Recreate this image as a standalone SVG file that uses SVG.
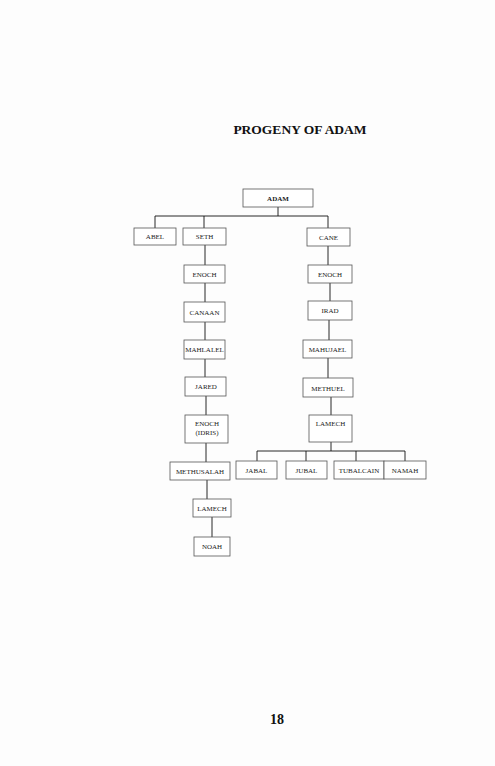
<svg xmlns="http://www.w3.org/2000/svg" width="495" height="766" viewBox="0 0 495 766">
<style>
.b{fill:#fff;stroke:#555;stroke-width:0.8}
.t{font-family:"Liberation Serif","DejaVu Serif",serif;font-size:7px;fill:#222;text-anchor:middle}
.c{stroke:#111;stroke-width:0.9;fill:none}
</style>
<rect width="495" height="766" fill="#fdfdfd"/>
<text x="300" y="134" font-family="Liberation Serif,serif" font-weight="bold" font-size="13.5" text-anchor="middle" fill="#111">PROGENY OF ADAM</text>
<text x="277" y="724" font-family="Liberation Serif,serif" font-weight="bold" font-size="14" text-anchor="middle" fill="#111">18</text>
<g id="connectors" class="c">
<path d="M278 207V216M155 216H328M155 216V228M204 216V228M328 216V228"/>
<path d="M205 245V265M205 283V302M205 322V340M205 359V377M206 396V415M206 443V462M207 480V499M212 517V537"/>
<path d="M328 246V265M330 283V301M329 320V340M328 358V378M331 397V415M331 442V451"/>
<path d="M257 451H405M257 451V461M306 451V461M356 451V461M405 451V461"/>
</g>
<g id="adam"><rect class="b" x="243" y="189" width="70" height="18"/><text class="t" x="278" y="200.5" font-weight="bold">ADAM</text></g>
<g id="abel"><rect class="b" x="134" y="228" width="42" height="17"/><text class="t" x="155" y="239">ABEL</text></g>
<g id="seth"><rect class="b" x="183" y="228" width="43" height="17"/><text class="t" x="204.5" y="239">SETH</text></g>
<g id="cane"><rect class="b" x="307" y="228" width="43" height="18"/><text class="t" x="328.5" y="239.5">CANE</text></g>
<g id="enoch1"><rect class="b" x="184" y="265" width="41" height="18"/><text class="t" x="204.5" y="276.5">ENOCH</text></g>
<g id="canaan"><rect class="b" x="184" y="302" width="41" height="20"/><text class="t" x="204.5" y="314.5">CANAAN</text></g>
<g id="mahlalel"><rect class="b" x="184" y="340" width="41" height="19"/><text class="t" x="204.5" y="352">MAHLALEL</text></g>
<g id="jared"><rect class="b" x="185" y="377" width="41" height="19"/><text class="t" x="206" y="388.5">JARED</text></g>
<g id="enochidris"><rect class="b" x="185" y="415" width="43" height="28"/><text class="t" x="207" y="425.5">ENOCH</text><text class="t" x="207" y="434.5">(IDRIS)</text></g>
<g id="methusalah"><rect class="b" x="170" y="462" width="60" height="18"/><text class="t" x="200" y="473.5">METHUSALAH</text></g>
<g id="lamech1"><rect class="b" x="193" y="499" width="38" height="18"/><text class="t" x="212" y="510.5">LAMECH</text></g>
<g id="noah"><rect class="b" x="194" y="537" width="36" height="19"/><text class="t" x="212" y="549">NOAH</text></g>
<g id="enoch2"><rect class="b" x="308" y="265" width="44" height="18"/><text class="t" x="330" y="276.5">ENOCH</text></g>
<g id="irad"><rect class="b" x="308" y="301" width="44" height="19"/><text class="t" x="330" y="312.5">IRAD</text></g>
<g id="mahujael"><rect class="b" x="303" y="340" width="49" height="18"/><text class="t" x="327.5" y="351.5">MAHUJAEL</text></g>
<g id="methuel"><rect class="b" x="303" y="378" width="50" height="19"/><text class="t" x="328" y="390.5">METHUEL</text></g>
<g id="lamech2"><rect class="b" x="309" y="415" width="43" height="27"/><text class="t" x="330.5" y="425.5">LAMECH</text></g>
<g id="jabal"><rect class="b" x="236" y="461" width="41" height="18"/><text class="t" x="256.5" y="472.5">JABAL</text></g>
<g id="jubal"><rect class="b" x="286" y="461" width="41" height="18"/><text class="t" x="306.5" y="472.5">JUBAL</text></g>
<g id="tubalcain"><rect class="b" x="334" y="461" width="50" height="18"/><text class="t" x="359" y="472.5">TUBALCAIN</text></g>
<g id="namah"><rect class="b" x="384" y="461" width="42" height="18"/><text class="t" x="405" y="472.5">NAMAH</text></g>
</svg>
